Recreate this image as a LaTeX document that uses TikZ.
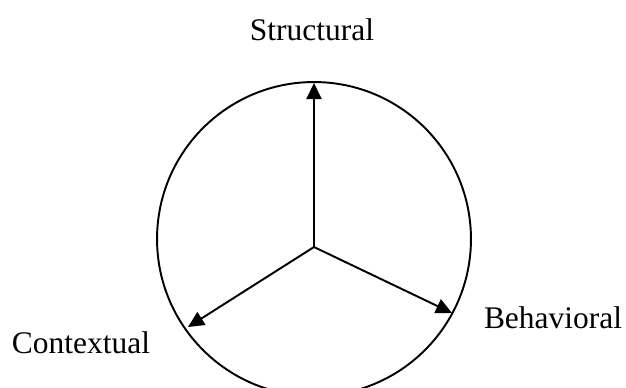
\documentclass[tikz,border=0pt]{standalone}
\usepackage{fontspec}
\setmainfont{Liberation Serif}
\usetikzlibrary{arrows.meta,positioning}

\begin{document}
\begin{tikzpicture}[x=0.02cm,y=-0.02cm]
    \tikzset{dimaxis/.style={line width=1.1pt,-{Triangle[length=0.32cm,width=0.3cm]}},
      dimlabel/.style={anchor=base,font=\fontsize{17.9}{20}\selectfont}}
    \useasboundingbox (0,0) rectangle (626,387);
    \clip (0,0) rectangle (626,387);
    \node[circle,draw,line width=1.1pt,minimum size=6.28cm,inner sep=0pt] (rim) at (314,239) {};
    \coordinate (o) at (314,247);
    \coordinate (s) at (314,83);
    \coordinate (c) at (188,327);
    \coordinate (b) at (452,313);
    \draw[dimaxis] (o) -- (s);
    \draw[dimaxis] (o) -- (c);
    \draw[dimaxis] (o) -- (b);
    \node[dimlabel] (structural) at (312,40) {Structural};
    \node[dimlabel] (contextual) at (81,353) {Contextual};
    \node[dimlabel] (behavioral) at (553,328) {Behavioral};
  \end{tikzpicture}
\end{document}
